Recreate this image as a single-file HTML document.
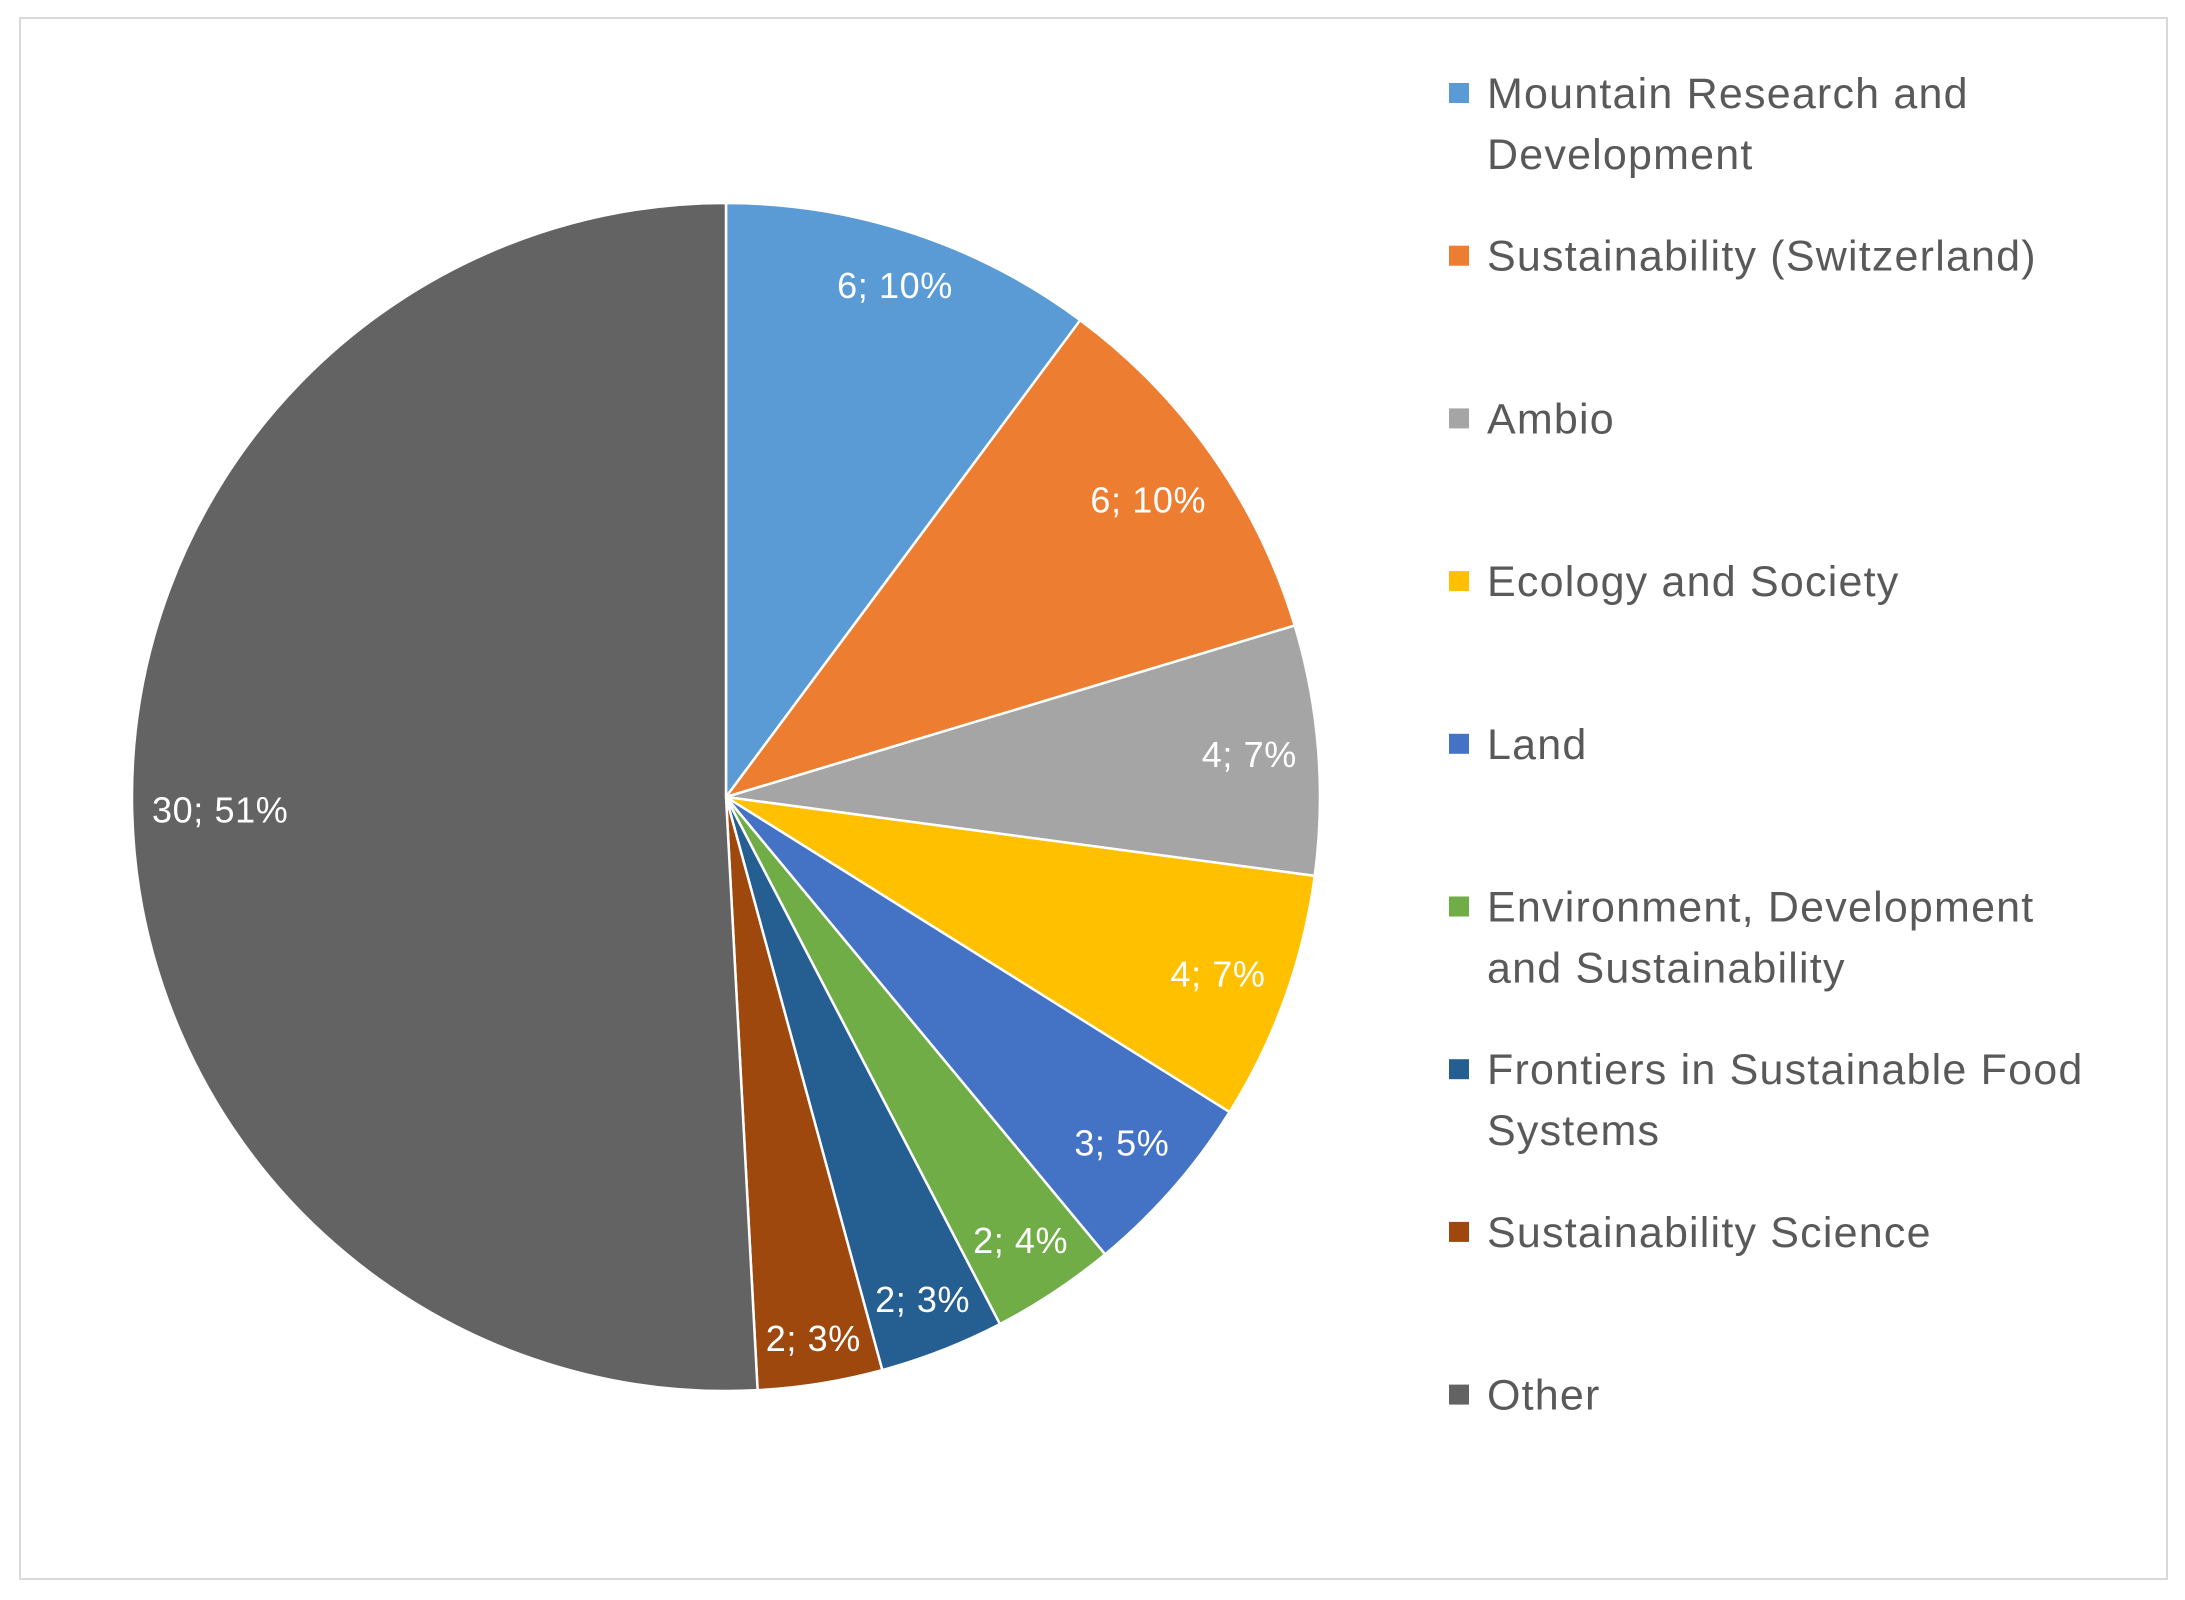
<!DOCTYPE html>
<html><head><meta charset="utf-8"><style>
html,body{margin:0;padding:0;background:#fff;}
svg{display:block;font-family:"Liberation Sans",Arial,sans-serif;}
</style></head><body>
<svg id="chart" width="2185" height="1600" viewBox="0 0 2185 1600">
<rect x="20" y="18" width="2147" height="1561" fill="#fff" stroke="#d9d9d9" stroke-width="2"/>
<g id="slices"></g>
<g id="labels"></g>
<g id="legend"></g>
</svg>
<script>
const categories = ["Mountain Research and Development","Sustainability (Switzerland)","Ambio","Ecology and Society","Land","Environment, Development and Sustainability","Frontiers in Sustainable Food Systems","Sustainability Science","Other"];
const values = [6,6,4,4,3,2,2,2,30];
const percentLabels = ["10%","10%","7%","7%","5%","4%","3%","3%","51%"];
const legendLines = [["Mountain Research and","Development"],["Sustainability (Switzerland)"],["Ambio"],["Ecology and Society"],["Land"],["Environment, Development","and Sustainability"],["Frontiers in Sustainable Food","Systems"],["Sustainability Science"],["Other"]];
const colors = ["#5B9BD5","#ED7D31","#A5A5A5","#FFC000","#4472C4","#70AD47","#255E91","#9E480E","#636363"];

const NS="http://www.w3.org/2000/svg";
const cx=726, cy=797, r=594;
const total=values.reduce((a,b)=>a+b,0);
function pt(a,rad){return [cx+rad*Math.sin(a), cy-rad*Math.cos(a)];}
const gS=document.getElementById('slices'), gL=document.getElementById('labels'), gG=document.getElementById('legend');
let acc=0;
values.forEach((v,i)=>{
  const a0=acc/total*2*Math.PI; acc+=v; const a1=acc/total*2*Math.PI;
  const p0=pt(a0,r), p1=pt(a1,r);
  const large=(a1-a0)>Math.PI?1:0;
  const path=document.createElementNS(NS,'path');
  path.setAttribute('d',`M${cx},${cy} L${p0[0]},${p0[1]} A${r},${r} 0 ${large} 1 ${p1[0]},${p1[1]} Z`);
  path.setAttribute('fill',colors[i]);
  path.setAttribute('stroke','#fff');
  path.setAttribute('stroke-width','2.5');
  
  
  gS.appendChild(path);
  const am=(a0+a1)/2;
  const t=document.createElementNS(NS,'text');
  t.setAttribute('text-anchor','middle');
  t.setAttribute('font-size','36');
  t.setAttribute('letter-spacing','0.6');
  t.setAttribute('fill','#fff');
  t.textContent=v+"; "+percentLabels[i];
  
  
  gL.appendChild(t);
  t.setAttribute('x',0); t.setAttribute('y',0);
  const bb=t.getBBox();
  const hw=bb.width/2+4, hh=20;
  const lim=0.975*r;
  const dx=Math.sin(am), dy=-Math.cos(am);
  let best=0;
  for(let d=0; d<r; d+=1){
    const px=d*dx, py=d*dy;
    let ok=true;
    for(const sx of [-1,1]) for(const sy of [-1,1]){
      const qx=px+sx*hw, qy=py+sy*hh;
      if(Math.hypot(qx,qy)>lim) ok=false;
    }
    if(ok) best=d; else break;
  }
  t.setAttribute('x',cx+best*dx); t.setAttribute('y',cy+best*dy+12);
  const y0=93+i*162.7;
  const g=document.createElementNS(NS,'g');
  
  
  const sq=document.createElementNS(NS,'rect');
  sq.setAttribute('x',1449); sq.setAttribute('y',y0-10); sq.setAttribute('width',20); sq.setAttribute('height',20);
  sq.setAttribute('fill',colors[i]);
  
  
  g.appendChild(sq);
  legendLines[i].forEach((ln,j)=>{
    const lt=document.createElementNS(NS,'text');
    lt.setAttribute('x',1487); lt.setAttribute('y',y0+15+j*61);
    lt.setAttribute('font-size','43');
    lt.setAttribute('letter-spacing','1.2');
    lt.setAttribute('fill','#595959');
    lt.textContent=ln;
    
    
    g.appendChild(lt);
  });
  gG.appendChild(g);
});
</script>
</body></html>
